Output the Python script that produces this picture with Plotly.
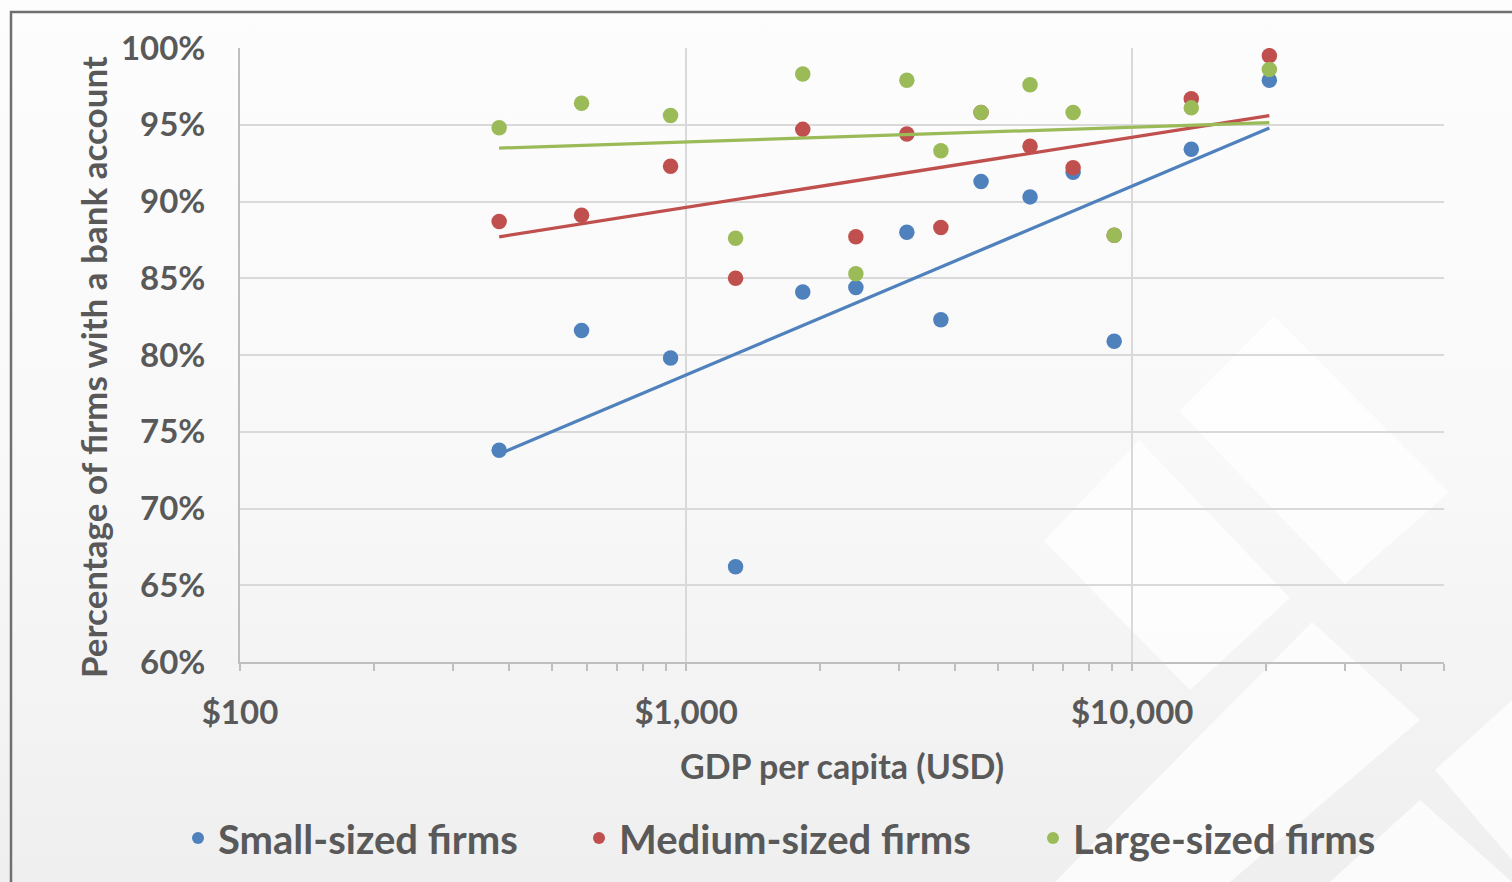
import base64
import numpy as np
import plotly.graph_objects as go

# ---------------- data ----------------
gdp_per_capita = [381, 583, 923, 1291, 1826, 2402, 3125, 3725, 4583, 5902, 7371, 9112, 13566, 20300]
small_firms = [73.8, 81.6, 79.8, 66.2, 84.1, 84.4, 88.0, 82.3, 91.3, 90.3, 91.9, 80.9, 93.4, 97.9]
medium_firms = [88.7, 89.1, 92.3, 85.0, 94.7, 87.7, 94.4, 88.3, 95.8, 93.6, 92.2, 87.8, 96.7, 99.5]
large_firms = [94.8, 96.4, 95.6, 87.6, 98.3, 85.3, 97.9, 93.3, 95.8, 97.6, 95.8, 87.8, 96.1, 98.6]

series_names = ["Small-sized firms", "Medium-sized firms", "Large-sized firms"]
series_values = [small_firms, medium_firms, large_firms]
series_colors = ["#4F81BD", "#C0504D", "#9BBB59"]
series_legends = ["legend", "legend2", "legend3"]

x_major_ticks = [100, 1000, 10000]
x_major_labels = ["$100", "$1,000", "$10,000"]
x_minor_ticks = [200, 300, 400, 500, 600, 700, 800, 900,
                 2000, 3000, 4000, 5000, 6000, 7000, 8000, 9000,
                 20000, 30000, 40000, 50000]
y_ticks = [60, 65, 70, 75, 80, 85, 90, 95, 100]
y_labels = ["60%", "65%", "70%", "75%", "80%", "85%", "90%", "95%", "100%"]

x_title = "GDP per capita (USD)"
y_title = "Percentage of firms with a bank account"

# ---------------- layout geometry ----------------
W, H = 1512, 882
ML, MR, MT, MB = 240, 68, 48, 220
PW, PH = W - ML - MR, H - MT - MB


def px_x(p):
    return (p - ML) / PW


def px_y(p):
    return (H - MB - p) / PH


TEXT = "#595959"
FONT = "Lato"

fig = go.Figure()

# scatter points
for name, vals, col, lg in zip(series_names, series_values, series_colors, series_legends):
    fig.add_trace(go.Scatter(
        x=gdp_per_capita, y=vals, mode="markers", name=name,
        marker=dict(color=col, size=15.5, line=dict(width=0)),
        legend=lg,
    ))

# logarithmic trendlines (least squares on log10 x)
lx = np.log10(np.array(gdp_per_capita, dtype=float))
xs = np.logspace(lx.min(), lx.max(), 60)
for name, vals, col in zip(series_names, series_values, series_colors):
    a, b = np.polyfit(lx, np.array(vals, dtype=float), 1)
    fig.add_trace(go.Scatter(
        x=xs, y=a * np.log10(xs) + b, mode="lines", showlegend=False,
        line=dict(color=col, width=3.25), hoverinfo="skip",
    ))

# ---------------- background (gradient + soft white diamonds + frame) ----------------
polys = [
    "1274,316 1449,492 1345,584 1179,411",
    "1139,440 1290,598 1190,690 1044,541",
    "1312,622 1420,720 1230,882 1055,882",
    "1512,700 1512,860 1435,770",
    "1330,882 1420,800 1512,882",
]
poly_svg = "".join(f'<polygon points="{p}" fill="#FFFFFF" fill-opacity="0.75"/>' for p in polys)
svg = (
    f'<svg xmlns="http://www.w3.org/2000/svg" width="{W}" height="{H}" viewBox="0 0 {W} {H}" preserveAspectRatio="none">'
    '<defs><linearGradient id="g" x1="0" y1="0" x2="0" y2="1">'
    '<stop offset="0" stop-color="#FDFDFD"/><stop offset="0.55" stop-color="#F8F8F8"/>'
    '<stop offset="1" stop-color="#EFEFEF"/></linearGradient></defs>'
    f'<rect x="0" y="0" width="{W}" height="{H}" fill="url(#g)"/>'
    + poly_svg +
    f'<path d="M11,{H} L11,12 L{W},12" stroke="#6F6F6F" stroke-width="2.5" fill="none"/>'
    '</svg>'
)
src = "data:image/svg+xml;base64," + base64.b64encode(svg.encode()).decode()

legend_common = dict(
    orientation="h", yanchor="middle", xanchor="left", y=px_y(838),
    font=dict(family=FONT, size=40, color=TEXT, weight=700),
    bgcolor="rgba(0,0,0,0)", itemsizing="constant", borderwidth=0,
)

fig.update_layout(
    width=W, height=H,
    margin=dict(l=ML, r=MR, t=MT, b=MB, autoexpand=False),
    paper_bgcolor="#F7F7F7", plot_bgcolor="rgba(0,0,0,0)",
    font=dict(family=FONT, color=TEXT),
    images=[dict(source=src, xref="paper", yref="paper", x=px_x(0), y=px_y(0),
                 sizex=W / PW, sizey=H / PH, xanchor="left", yanchor="top",
                 sizing="stretch", layer="below")],
    legend=dict(x=px_x(178), **legend_common),
    legend2=dict(x=px_x(579), **legend_common),
    legend3=dict(x=px_x(1033), **legend_common),
    xaxis=dict(
        type="log", range=[2, np.log10(50000)], tickvals=x_major_ticks, ticktext=x_major_labels,
        showgrid=True, gridcolor="#D9D9D9", gridwidth=2,
        showline=True, linecolor="#BFBFBF", linewidth=2,
        ticks="outside", ticklen=7, tickwidth=1.5, tickcolor="#BFBFBF",
        ticklabelstandoff=13,
        tickfont=dict(family=FONT, size=33, color=TEXT, weight=700),
        minor=dict(tickvals=x_minor_ticks, ticks="outside", ticklen=7, tickwidth=1.5,
                   tickcolor="#BFBFBF", showgrid=False),
        zeroline=False, automargin=False, fixedrange=True,
    ),
    yaxis=dict(
        range=[60, 100], tickvals=y_ticks, ticktext=y_labels,
        showgrid=True, gridcolor="#D9D9D9", gridwidth=2,
        showline=True, linecolor="#BFBFBF", linewidth=2,
        ticks="", ticklabelstandoff=26,
        tickfont=dict(family=FONT, size=33, color=TEXT, weight=700),
        zeroline=False, automargin=False, fixedrange=True,
    ),
    annotations=[
        dict(text=x_title, xref="paper", yref="paper", x=px_x(842), y=px_y(765),
             xanchor="center", yanchor="middle", showarrow=False,
             font=dict(family=FONT, size=34, color=TEXT, weight=700)),
        dict(text=y_title, xref="paper", yref="paper", x=px_x(93), y=px_y(367),
             xanchor="center", yanchor="middle", showarrow=False, textangle=-90,
             font=dict(family=FONT, size=35, color=TEXT, weight=700)),
    ],
    showlegend=True,
)

fig.write_html("out.html")
